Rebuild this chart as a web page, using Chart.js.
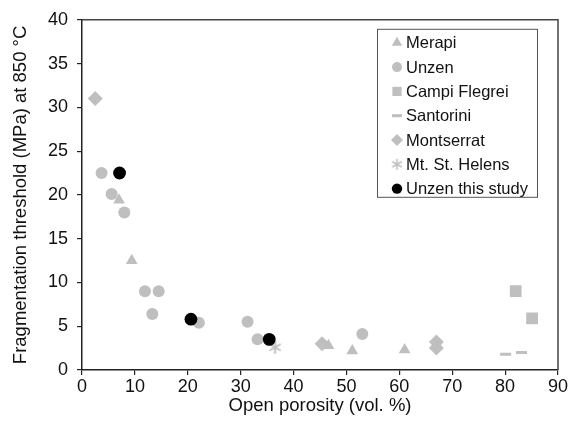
<!DOCTYPE html>
<html>
<head>
<meta charset="utf-8">
<script src="https://cdn.jsdelivr.net/npm/chart.js@4.4.1/dist/chart.umd.min.js"></script>
<style>
  html, body { margin: 0; padding: 0; background: #fff; }
  #wrap { width: 571px; height: 433px; }
</style>
</head>
<body>
<div id="wrap"><canvas id="myChart" width="571" height="433"></canvas></div>
<script>
//------ donnees (porosite %, seuil MPa)
const merapiX = [7.0, 9.4, 46.6, 51.1, 61.0];
const merapiY = [19.4, 12.5, 2.8, 2.2, 2.3];

const unzenX = [3.7, 5.6, 8.0, 11.9, 14.5, 13.3, 22.1, 31.3, 33.2, 53.0];
const unzenY = [22.5, 20.1, 18.0, 9.0, 9.0, 6.4, 5.4, 5.5, 3.5, 4.1];

const campiX = [82.0, 85.1];
const campiY = [9.0, 5.9];

const santoriniX = [80.1, 83.1];
const santoriniY = [1.8, 2.0];

const montserratX = [2.5, 45.4, 67.0, 67.0];
const montserratY = [31.0, 3.0, 3.2, 2.5];

const helensX = [36.5];
const helensY = [2.6];

const studyX = [7.1, 20.6, 35.4];
const studyY = [22.5, 5.8, 3.5];

const xTicks = [0, 10, 20, 30, 40, 50, 60, 70, 80, 90];
const yTicks = [0, 5, 10, 15, 20, 25, 30, 35, 40];

const gris = '#bfbfbf';
const police = "'Liberation Sans', Arial, Helvetica, sans-serif";

// petit utilitaire pour passer de deux tableaux a des points {x, y}
function pts(xs, ys) {
  return xs.map((x, i) => ({ x: x, y: ys[i] }));
}

// asterisque a 6 branches pour Mt. St. Helens
function asterisque(r, lw) {
  const c = document.createElement('canvas');
  const s = Math.ceil(r * 2 + lw * 2);
  c.width = s; c.height = s;
  const g = c.getContext('2d');
  g.strokeStyle = gris;
  g.lineWidth = lw;
  [90, 30, 150].forEach(a => {
    const rad = a * Math.PI / 180;
    g.beginPath();
    g.moveTo(s / 2 - Math.cos(rad) * r, s / 2 - Math.sin(rad) * r);
    g.lineTo(s / 2 + Math.cos(rad) * r, s / 2 + Math.sin(rad) * r);
    g.stroke();
  });
  return c;
}
const starBig = asterisque(6.5, 2);
const starSmall = asterisque(5.5, 1.6);

const datasets = [
  { label: 'Merapi', data: pts(merapiX, merapiY), pointStyle: 'triangle', pointRadius: 6.8,
    backgroundColor: gris, borderColor: gris, borderWidth: 0, order: 2 },
  { label: 'Unzen', data: pts(unzenX, unzenY), pointStyle: 'circle', pointRadius: 6,
    backgroundColor: gris, borderColor: gris, borderWidth: 0, order: 2 },
  { label: 'Campi Flegrei', data: pts(campiX, campiY), pointStyle: 'rect', pointRadius: 8.3,
    backgroundColor: gris, borderColor: gris, borderWidth: 0, order: 2 },
  { label: 'Santorini', data: pts(santoriniX, santoriniY), pointStyle: 'line', pointRadius: 5.5,
    backgroundColor: gris, borderColor: gris, borderWidth: 3, order: 2 },
  { label: 'Montserrat', data: pts(montserratX, montserratY), pointStyle: 'rectRot', pointRadius: 7.5,
    backgroundColor: gris, borderColor: gris, borderWidth: 0, order: 2 },
  { label: 'Mt. St. Helens', data: pts(helensX, helensY), pointStyle: starBig, pointRadius: 7,
    backgroundColor: gris, borderColor: gris, borderWidth: 0, order: 2 },
  { label: 'Unzen this study', data: pts(studyX, studyY), pointStyle: 'circle', pointRadius: 6.4,
    backgroundColor: '#000', borderColor: '#000', borderWidth: 0, order: 0 }
];

//------ cadre du graphique + legende encadree dessinee a la main
const cadreLegende = {
  id: 'cadreLegende',
  afterDraw(chart) {
    const ctx = chart.ctx;
    const a = chart.chartArea;
    ctx.save();
    // cadre haut et droit
    ctx.strokeStyle = '#444';
    ctx.lineWidth = 1.5;
    ctx.beginPath();
    ctx.moveTo(a.left, a.top);
    ctx.lineTo(a.right, a.top);
    ctx.lineTo(a.right, a.bottom);
    ctx.stroke();

    // legende
    const bx = a.right - 181, by = a.top + 9, bw = 160, bh = 168;
    ctx.fillStyle = '#fff';
    ctx.fillRect(bx, by, bw, bh);
    ctx.strokeStyle = '#555';
    ctx.lineWidth = 1;
    ctx.strokeRect(bx + 0.5, by + 0.5, bw, bh);

    ctx.font = '16.5px ' + police;
    ctx.textBaseline = 'middle';
    ctx.textAlign = 'left';
    const tailles = [6, 5, 6.5, 5, 6, 5.5, 5.2];
    chart.data.datasets.forEach((ds, i) => {
      const y = by + 14 + i * 24.3;
      const x = bx + 20;
      const opts = {
        pointStyle: ds.pointStyle === starBig ? starSmall : ds.pointStyle,
        radius: tailles[i],
        rotation: 0,
        borderWidth: ds.borderWidth
      };
      ctx.fillStyle = ds.backgroundColor;
      ctx.strokeStyle = ds.borderColor;
      ctx.lineWidth = ds.borderWidth;
      Chart.helpers.drawPoint(ctx, opts, x, y);
      ctx.fillStyle = '#111';
      ctx.fillText(ds.label, x + 9, y + 1);
    });
    ctx.restore();
  }
};

const ctx = document.getElementById('myChart');

new Chart(ctx, {
  type: 'scatter',
  data: { datasets: datasets },
  options: {
    responsive: false,
    animation: false,
    devicePixelRatio: 1,
    layout: { padding: { top: 18, right: 13, left: 0, bottom: 0 } },
    plugins: {
      legend: { display: false },
      tooltip: { enabled: false }
    },
    scales: {
      x: {
        type: 'linear',
        min: 0, max: 90,
        afterBuildTicks: s => { s.ticks = xTicks.map(v => ({ value: v })); },
        afterFit: s => { s.height = 63; },
        grid: { display: true, drawOnChartArea: false, drawTicks: true, tickLength: 5, color: '#222', lineWidth: 1.2 },
        border: { display: true, color: '#222', width: 1.5 },
        ticks: { color: '#111', font: { family: police, size: 18 }, padding: 1, maxRotation: 0 },
        title: { display: true, text: 'Open porosity (vol. %)', color: '#111',
                 font: { family: police, size: 18.5 }, padding: { top: 0, bottom: 16 } }
      },
      y: {
        type: 'linear',
        min: 0, max: 40,
        afterBuildTicks: s => { s.ticks = yTicks.map(v => ({ value: v })); },
        afterFit: s => { s.width = 82; },
        grid: { display: true, drawOnChartArea: false, drawTicks: true, tickLength: 5, color: '#222', lineWidth: 1.2 },
        border: { display: true, color: '#222', width: 1.5 },
        ticks: { color: '#111', font: { family: police, size: 18 }, padding: 9 },
        title: { display: true, text: 'Fragmentation threshold (MPa) at 850 °C', color: '#111',
                 font: { family: police, size: 18.5 }, padding: { top: 10, bottom: 0 } }
      }
    }
  },
  plugins: [cadreLegende]
});
</script>
</body>
</html>
